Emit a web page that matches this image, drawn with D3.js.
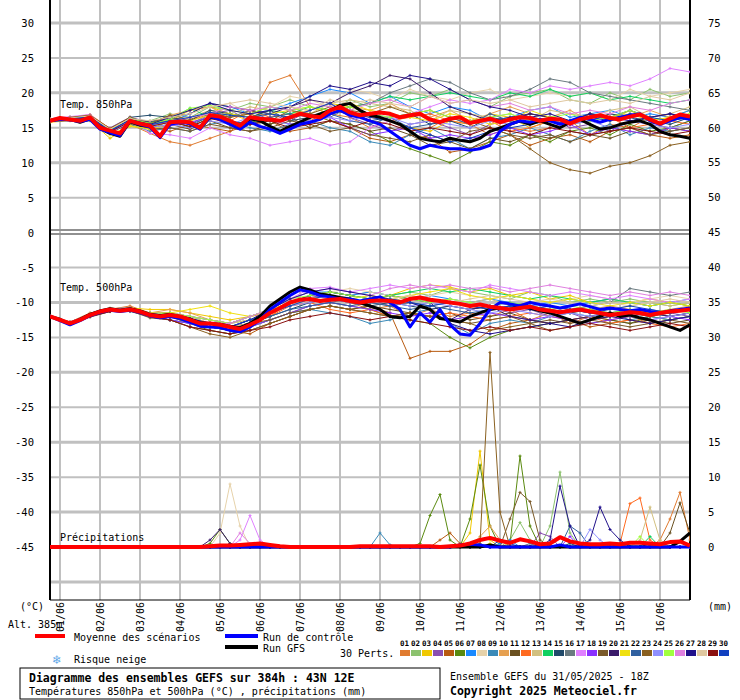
<!DOCTYPE html>
<html><head><meta charset="utf-8">
<script src="https://cdn.jsdelivr.net/npm/d3@7"></script>
<style>body{margin:0;background:#fff}text{font-family:"DejaVu Sans Mono",monospace}</style>
</head><body><svg id="c" width="740" height="700"></svg>
<script>
const dayLabels=["01/06","02/06","03/06","04/06","05/06","06/06","07/06","08/06","09/06","10/06","11/06","12/06","13/06","14/06","15/06","16/06"];
const leftTicks=[30,25,20,15,10,5,0,-5,-10,-15,-20,-25,-30,-35,-40,-45];
const rightTopTicks=[75,70,65,60,55,50,45];
const rightBotTicks=[40,35,30,25,20,15,10,5,0];
const pertColors=["#e07b30","#8cc26e","#f0c800","#8a4fb0","#b85a10","#5a8a10","#1a8aff","#e6d2aa","#3a8ab8","#e6a050","#6a5020","#ff6a20","#d2c080","#10d060","#204a6a","#6a7a80","#e080ff","#8a30ff","#7a5a2a","#3a1a6a","#f0e010","#3060a0","#8a6020","#9090ff","#a0ff40","#e080e0","#20108a","#e0c8a0","#8a1010","#1040c0"];

const mean850=[16,16.4,16.2,16,16.5,15,14.6,14.2,16,15.6,15.3,13.8,15.8,15.9,15.8,15,16.8,16.6,16,15.3,16.5,16.3,16.2,16,16.5,17,16.7,16.5,17.5,18,17.2,16.8,17,17.2,17,16.5,16.8,17,16.2,15.8,16.3,16.5,15.7,16,16.3,15.8,16.2,16.5,16.4,16,16.3,16.2,15.6,16.2,16.5,16.8,16.4,16.2,16.6,16.9,16.2,15.6,16.3,16.9,16.6];
const ctrl850=[16,16.2,16.1,15.9,16.2,14.8,14.3,13.9,16,15.5,15.1,13.6,15.5,15.8,15.6,14.8,16.6,16.2,15.5,14.8,15.8,15.2,14.8,14.2,14.8,15.5,15.8,16.2,17,17.5,16.8,16.5,16,15.5,14.5,13.5,12.5,12,12.5,12.2,12,12,11.8,12,12.5,14.5,15.5,16,15.8,16.2,16,15.5,16,16.5,16.2,15.8,16.2,16.5,16.8,17,16,15.5,16,16.5,16.2];
const gfs850=[16,16.3,16.2,15.8,16.3,14.9,14.2,13.8,15.9,15.4,15.2,13.7,15.7,15.9,15.7,14.9,16.5,16.4,15.8,15.2,16.3,16,15.2,14.5,15.2,15.8,16.5,17,17.5,18.2,18.5,17.5,16.8,16.5,16,15.5,14.5,13.5,13.2,13,13.5,13.2,13,13.5,14.5,15,15.5,16,15.5,16,15.5,15,15.8,16.2,15.5,14.8,15,15.5,15.8,16,15.5,14.5,14,13.8,13.5];
const mean500=[-12,-12.5,-13,-12.5,-11.8,-11.3,-11,-11.2,-11,-11.3,-11.8,-12,-11.8,-12,-12.5,-13,-13,-13.2,-13.5,-13.8,-13.2,-12.5,-11.5,-10.8,-10,-9.6,-9.5,-9.8,-9.6,-9.5,-9.8,-10,-9.8,-9.7,-9.8,-10,-9.5,-9.3,-9.6,-9.8,-10,-10.2,-10.5,-10.3,-10.6,-10.8,-11,-10.8,-10.6,-11,-11.2,-11.4,-11.2,-11,-11.3,-11.5,-11.8,-11.6,-11.4,-11.5,-11.8,-11.5,-11.3,-11.2,-11];
const ctrl500=[-12,-12.6,-13.2,-12.6,-11.9,-11.4,-11.1,-11.3,-11.1,-11.4,-11.9,-12.2,-12,-12.3,-12.8,-13.4,-13.5,-13.6,-14,-14.2,-13.5,-12.5,-11,-10,-9,-8.2,-8.5,-9,-9.2,-9.5,-9.5,-9.8,-9.5,-9.2,-10,-11,-13.5,-11.5,-12.8,-11,-13.2,-14.5,-14.7,-13,-11,-10,-10.2,-10.5,-10,-10.3,-10.5,-10.8,-10.5,-10.2,-10.6,-11,-10.8,-11,-11.2,-11,-11.3,-11.5,-11.2,-11,-10.8];
const gfs500=[-12,-12.4,-13.1,-12.4,-11.7,-11.2,-10.9,-11.1,-10.9,-11.2,-11.7,-11.9,-11.7,-12,-12.4,-12.9,-13,-13.1,-13.4,-13.6,-13,-12,-10.5,-9.5,-8.5,-7.8,-8.2,-8.8,-9,-9.3,-9.5,-10,-10.5,-11,-12,-12.2,-12,-10.5,-11,-12.3,-12.5,-12.8,-12,-11.5,-11,-10.8,-11,-10.5,-10.8,-11.2,-11.5,-12,-12.5,-13,-12.5,-12,-11.5,-12,-11.8,-12.2,-12.5,-13,-13.5,-14,-13.2];
const meanPrecip=[0,0,0,0,0,0,0,0,0,0,0,0,0,0,0,0,0.1,0.2,0.2,0.3,0.4,0.5,0.3,0.1,0,0,0,0,0,0,0,0.1,0.1,0.1,0.1,0.1,0.1,0.1,0.1,0,0.1,0.2,0.5,1,1.3,0.9,0.6,1.1,0.8,0.4,0.5,1.4,0.8,0.5,0.4,0.4,0.5,0.4,0.6,0.6,0.5,0.4,0.7,0.8,0.2];
const ctrlPrecipEvents=[[41,0.3],[42,0.4],[43,0.3],[51,0.3]];
const gfsPrecipEvents=[[44,0.3],[63,0.8],[64,2]];

// perturbations, 12-hourly values
const pert850=[
[16.3,16.5,16.8,14.8,15.5,14.2,13,12.5,13.5,14.5,16.5,21.5,22.5,18,17,16.5,15,16,14.5,15,16.5,15.5,14,15,14.5,15,16,14,15.5,15,16.5,14.5,15],
[16,16.3,16.2,14.2,16.2,16,17,16.5,18,17.5,18.5,18,19,18,17.5,19,18,18.5,20,19.5,20.5,19,18,19.5,20,20.5,19,18.5,20,19,20.5,19.5,20],
[15.8,16,16,13.5,15.2,14.8,16,17.5,18,17,16,16.5,17,17.5,18.5,18,17,16,15,14.5,16,15.5,17,16.5,15,16,15.5,17,16,17.5,16,16.5,17.5],
[16.2,16.5,16.4,15,16.5,15.8,16.5,15,17,17.5,16,17,16,17.5,18.5,16.5,15.5,14.5,15.5,16,15,14,15.5,16,17,16.5,15,15.5,14.5,16,15.5,15,16],
[16,16.2,16.6,14.5,15.8,15,14.5,15.5,15,14.5,15.5,16,14.5,15,16,15,13.5,13,14,13.5,11.5,12,13,14,12.5,13.5,14,13,14.5,15,14,13.5,14],
[16.1,16.4,16.5,14.8,16,15.5,16.2,15,16.5,15.5,16,15.5,16.5,17,16,15.5,14.5,13,12,11,10,11.5,13,12.5,14,13,14.5,15,14,15.5,14.5,15,16],
[16,16.1,16.7,14.7,16.3,15.2,15.8,17,18.5,18,17,17.5,18.5,19.5,20.5,20,18.5,19.5,18,17,18,17.5,16,16.5,17.5,18,16.5,17,17.5,16.5,17,16.5,17.5],
[16.2,16.5,16.4,14.6,16.1,15.8,16.5,17.5,18,18.5,17,18,19.5,19,18,20.5,20,19,20.5,19.5,19,20,20.5,19,19.5,20,19.5,20,19,20.5,19.5,20,20.5],
[15.9,16.2,16.3,14.4,15.5,14.5,15,14.5,15.5,16,15,14.5,15.5,16,15,14.5,13,12.5,14,15,13.5,12,13.5,14,15,14,13,14.5,15.5,14,15,14.5,15],
[16,16.3,16.6,14.5,16.4,15.6,16.8,17.5,18,16.5,17,18,17.5,16.5,17,18,17.5,18.5,17,16.5,17.5,16,17,18,17,16.5,17.5,16,17,16.5,17.5,16.5,17],
[16.1,16.2,16.1,14.2,15.9,15,15.5,14.8,16,15,14.5,15.5,16.5,15,16,15.5,14.5,15,14,12.5,13,12,13.5,13,14,13.5,14.5,14,13.5,14.5,14,15,14.5],
[16.3,16.4,16.9,14.9,16.2,15.5,16.5,16,17,16,17.5,16.5,15.5,16,17.5,17,16.5,16,16.5,17,16,15.5,16,14.5,15,16,15.5,17,16.5,15,15.5,16,15.5],
[16,16.1,16.4,14.5,16,15.3,16,16.5,17.5,17,18,17.5,18,17,18.5,19,18.5,18,17.5,16,17.5,17,16.5,17,16,17.5,17,16.5,17.5,18,16.5,17,18],
[16.1,16.3,16.5,14.6,16.3,15.8,16.2,17.8,16.5,17,16.5,17.5,17,18,17.5,18,18.5,19.5,19,19.5,20,19.5,19,20,19.5,20.5,19.5,20,19,19.5,19,18.5,19],
[16.2,16.3,16.6,14.5,16.5,16.8,16.5,16,17.5,17,16.5,17.5,16,16.5,17,17.5,16,16.5,17,15.5,16,15,16.5,16,17,16.5,15.5,16,17,16.5,16,15.5,16.5],
[16,16.2,16.4,14.6,16.1,15.4,16,15.5,17,16.5,17.5,17,16.5,17,16.5,18,18.5,20,21,22,21.5,20,19,19.5,20.5,22,21.5,20,19.5,19,18.5,18,17.5],
[16.3,16.6,16.9,14.7,16.4,14.2,14,13.5,15,14,13.5,12.5,13,13.5,12.5,13,15,16,17,18,19,18.5,19,20.5,20,21,20.5,21,21.5,21,22,23.5,23],
[16,16.2,16.3,14.4,15.7,15,15.3,15.8,16.5,15.5,16,16.5,15.5,16,16.5,15,14,14.5,15,13.5,14,13.5,14,15,14,14.5,15.5,14,15,14.5,14,15,14.5],
[15.9,16.1,16.2,14.3,15.6,14.8,15,14.5,15.5,15,14.5,15,16,15.5,14.5,15,14,13.5,13,14,13,14.5,15,14,13.5,14,13,14,14.5,15,14,14.5,15],
[16.1,16.4,16.6,14.6,16.2,15.9,16.5,17,18.5,18,17.5,17,18,19,18.5,20,21,22.5,22,20,18,17,16,16.5,17,16.5,16,17,16.5,17.5,16.5,17,16.5],
[16,16.2,16.5,14,15.3,14.8,15.5,16,16.8,17,16.5,17,17.5,18,17,18.5,17.5,17,16.5,16,17,16.5,15.5,16,17.5,16.5,16,17,16.5,17,16,16.5,17],
[16.2,16.3,16.7,14.5,16,15.5,16,15.5,16.5,16,15.5,16.5,17,16.5,17,16,15.5,16.5,15,15.5,16.5,15.5,17,16,15.5,16.5,16,17,16,16.5,15.5,16,16.5],
[16.3,16.5,16.8,14.9,16.5,15.6,16.8,16.2,17.2,16.5,17,16,17.5,17,18,17.5,17,18,17,17.5,16.5,16,15,14,12,10,9,8.5,9.5,10,11,12.5,13],
[16,16.1,16.2,14.3,15.8,15,15.5,15,16,15.5,16.5,16,15.5,16,16.5,16,17,16.5,15.5,16,15.5,15,16,15.5,16.5,16,15.5,16,15,16,15.5,15,15.5],
[16.2,16.4,16.6,14.7,16.3,15.6,16.2,17.8,18.2,17.5,17,18,17.5,18,17.5,18,17,16.5,17,17.5,16.5,16,16.5,17,16,16.5,17,16,16.5,17.5,16.5,16,17],
[16.1,16.3,16.5,14.6,16,15.4,15.8,16.5,17,18,17.5,18,17.5,18.5,18,17.5,18.5,19,18,19.5,18.5,19,18,18.5,17.5,18,17,17.5,17,18,17.5,18.5,19],
[16,16.2,16.6,14.5,16.2,15.5,16.5,17.5,18.5,17.5,17,17.5,18,19.5,21,20.5,21.5,21,22.5,22,20.5,19,18,17.5,16.5,17,16,17,16.5,16,16.5,17,16.5],
[16.2,16.4,16.7,14.8,16.3,16,16.5,17,18,18.5,19,18.5,18,17.5,19,18.5,19,18.5,18,19.5,18.5,19,18.5,19,18,18.5,19,18.5,19,18.5,19.5,19,20],
[16,16.2,16.4,14.4,15.9,15.2,15.8,15.2,16.3,15.8,15.5,16,15,15.5,16,15,16,15.5,14.5,15,14.5,14,15,14.5,14,15,14.5,14,14.5,15,14.5,14,14.5],
[16.1,16.3,16.5,14.6,16.1,15.4,16,16.5,17.2,16.8,16.5,17,16.5,17.5,18.5,17,16.5,16,15,14,13,13.5,14.5,15,15.5,16,15.5,16.5,16,17,16.5,16,16.5]];
const pert500=[
[-12,-12.8,-11.5,-11,-10.5,-11.5,-12,-12,-13,-13.5,-13,-12,-10,-9.5,-9,-10,-11,-10.5,-12,-11,-12,-11.5,-12,-11,-12.5,-11.5,-13,-12,-12.5,-12,-13,-12.5,-12],
[-12,-13,-11.6,-10.8,-11,-12,-11.5,-12.5,-13,-13,-12.5,-11.5,-10.5,-9.5,-8.5,-9,-8.5,-9,-8.5,-9,-8,-8.5,-9,-9.5,-8.5,-9,-10,-9.5,-10,-9.5,-10,-10.5,-10],
[-12,-12.9,-11.8,-11.2,-10.8,-11,-11,-11.5,-12,-12.5,-12,-11.5,-10,-9,-8.5,-9,-9.5,-9,-8,-7.5,-7.8,-8.5,-8,-9,-8.5,-9.5,-9,-10,-9.5,-10,-9.5,-10,-10.5],
[-12,-13.1,-12,-11.3,-11.2,-12,-12.5,-13,-13.5,-14,-13,-11.5,-10,-9,-9.5,-10,-9.5,-10.5,-10,-11,-10.5,-11,-10.5,-11.5,-11,-12,-11.5,-12.5,-12,-11.5,-12,-11.5,-12],
[-12,-13,-11.9,-11.1,-11,-12,-12,-13,-13.5,-14,-14.5,-13,-12,-11,-10.5,-11,-10.5,-11.5,-18,-17,-17,-16,-14,-13,-12.5,-13,-12.5,-13.5,-13,-12.5,-13,-12.5,-12],
[-12,-12.8,-11.7,-11,-11.2,-11.5,-12,-13,-14,-14.5,-13.5,-12.5,-11.5,-10.5,-10,-10.5,-11,-12,-12.5,-13,-15,-16.5,-15,-14,-13.5,-13,-12.5,-13,-12.5,-13,-12,-12.5,-12],
[-12,-13,-11.8,-10.9,-10.8,-11.5,-11.5,-12,-12.5,-13,-12,-11,-9.5,-8.5,-8.5,-9,-8.5,-9,-9.5,-9,-9.5,-10,-9.5,-10,-10.5,-10,-10.5,-10,-9.5,-10,-10.5,-10,-9.5],
[-12,-12.9,-11.9,-11.1,-11,-11.8,-11.5,-12,-12.5,-13,-12.5,-11.5,-10,-9,-8.5,-8,-8.5,-9,-9.5,-9,-8.5,-9,-9.5,-9,-9.5,-10,-9.5,-9,-9.5,-10,-9.5,-9,-9.5],
[-12,-13,-12,-11.2,-11.3,-12,-12.5,-13,-13.5,-14,-13.5,-12.5,-11.5,-11,-11.5,-12,-13,-12.5,-11.5,-11,-13,-14.5,-13,-12.5,-13,-12,-11.5,-12,-11.5,-12.5,-12,-12.5,-12],
[-12,-12.8,-11.6,-10.9,-10.7,-11.5,-11,-11.5,-12.5,-13,-12,-11.5,-10.5,-10,-9.5,-10,-9.5,-10,-9,-9.5,-10,-10.5,-11,-10.5,-11,-10.5,-11.5,-11,-10.5,-11,-11.5,-11,-10.5],
[-12,-13.1,-12.1,-11.3,-11.2,-12.2,-12.5,-13.5,-14,-14.5,-14,-13,-12,-11,-10.5,-11,-10.5,-11,-11.5,-12,-11.5,-12.5,-12,-11.5,-12.5,-13,-12.5,-12,-12.5,-13,-12.5,-13,-12.5],
[-12,-12.9,-11.8,-11,-11,-11.8,-12,-12.5,-13,-13.5,-13,-12,-10.5,-10,-11,-11.5,-11,-12,-11.5,-12,-11.5,-12,-12.5,-12,-11.5,-12,-12.5,-12,-13,-12.5,-13,-13.5,-13],
[-12,-13,-11.7,-11,-10.9,-11.6,-11.5,-12,-13,-13,-12.5,-11.5,-10.5,-9.5,-9,-9.5,-9,-9.5,-9,-10,-9.5,-10,-9.5,-10.5,-10,-10.5,-11,-10.5,-11,-10.5,-10,-10.5,-10],
[-12,-12.9,-11.8,-11.1,-11,-11.8,-11.8,-12.5,-13,-13.5,-12.5,-11.5,-10,-9,-8.5,-9,-9.5,-9,-8.5,-8,-8.5,-8,-8.5,-9,-9.5,-9,-9.5,-10,-9.5,-10,-10.5,-10,-10.5],
[-12,-13,-11.9,-11.2,-11.1,-11.9,-12,-12.5,-13.5,-14,-13,-12,-11,-10,-9.5,-10,-10.5,-10,-10.5,-11,-10.5,-11,-10.5,-11,-10.5,-11,-11.5,-11,-11.5,-11,-11.5,-12,-11.5],
[-12,-12.8,-11.7,-10.9,-10.8,-11.6,-11.5,-12,-12.5,-13,-12,-11,-10.5,-9.5,-10,-9.5,-10,-10.5,-10,-10.5,-10,-10.5,-11,-10.5,-10,-10.5,-11,-10.5,-10,-8,-8.5,-9,-8.5],
[-12,-13,-11.8,-11,-11,-11.8,-11.5,-12,-12.5,-13,-12,-11,-9.5,-8,-7.8,-8.5,-8,-7.5,-8,-7.5,-8,-8.5,-7.5,-8,-8.5,-9,-8.5,-9,-9.5,-9,-9.5,-10,-9.5],
[-12,-13.1,-12,-11.2,-11.2,-12,-12.5,-13,-13.5,-14,-13.5,-12.5,-11.5,-10.5,-10,-10.5,-11,-11.5,-12,-11.5,-12.5,-12,-11.5,-12,-12.5,-12,-12.5,-13,-12.5,-12,-12.5,-12,-12.5],
[-12,-12.9,-11.8,-11,-11,-11.7,-12,-12.5,-13,-13.5,-13,-12.5,-11.5,-11,-10.5,-11,-11.5,-12,-11.5,-12,-12.5,-13,-12.5,-12,-13,-12.5,-13,-12.5,-13,-13.5,-13,-12.5,-13],
[-12,-13,-11.9,-11.1,-11,-11.8,-11.8,-12.5,-13,-13.5,-12.5,-11.5,-10,-9,-8.5,-9,-9.5,-9,-9.5,-10,-12.5,-11,-10.5,-12,-12.5,-13,-12.5,-12,-11.5,-12,-11.5,-12,-11.5],
[-12,-12.9,-11.7,-11,-10.9,-11.5,-11.5,-11,-10.5,-11.5,-12,-11,-10,-9.5,-9,-9.5,-9,-9.5,-9,-8.5,-8,-9,-9.5,-9,-9.5,-10,-9.5,-10,-10.5,-10,-10.5,-10,-10.5],
[-12,-13,-11.8,-11.1,-11,-11.8,-12,-12.5,-13.5,-14,-13,-12,-11,-10.5,-10,-10.5,-10,-10.5,-11,-10.5,-11,-11.5,-11,-10.5,-11,-11.5,-11,-11.5,-12,-11.5,-11,-11.5,-11],
[-12,-13,-12,-11.2,-11.1,-12,-12.5,-13.5,-14.5,-15,-14,-13,-12,-11,-10.5,-11,-11.5,-12,-11.5,-12,-12.5,-13,-14,-13.5,-13,-14,-13.5,-12.5,-12,-11.5,-12,-11.5,-11],
[-12,-12.8,-11.7,-10.9,-10.8,-11.6,-11.8,-12.3,-13,-13.5,-12.5,-11.5,-10.5,-10,-9.5,-10,-9.5,-10,-10.5,-10,-10.5,-11,-11.5,-11,-11.5,-12,-11.5,-12,-11.5,-12,-12.5,-12,-11.5],
[-12,-13,-11.8,-11,-11,-11.8,-11.5,-12,-12.5,-13,-12,-11,-9.5,-9,-8.5,-9,-9.5,-9,-9.5,-10,-9.5,-10,-10.5,-10,-10.5,-11,-10.5,-11,-11.5,-11,-11.5,-11,-11.5],
[-12,-12.9,-11.9,-11.1,-11,-11.9,-12,-12.5,-13,-13,-12,-11,-9.5,-8.5,-8,-8.5,-9,-8,-7.5,-8,-7.5,-8,-7.8,-8.5,-8,-7.5,-8,-8.5,-9,-8.5,-9,-8.5,-9],
[-12,-13,-11.8,-11,-11,-11.7,-11.8,-12.3,-13,-13.5,-12.5,-11,-9.5,-8.5,-8,-8.5,-9,-9.5,-10,-11,-13,-14,-14.5,-14,-13.5,-13,-13.5,-12.5,-12,-12.5,-13,-12.5,-12],
[-12,-12.9,-11.8,-11.1,-11,-11.8,-12,-12.5,-13,-13.5,-13,-11.5,-10.5,-9.5,-9,-9.5,-10,-9.5,-9,-9.5,-10,-9.5,-9,-9.5,-10,-9.5,-10,-10.5,-10,-10.5,-10,-9.5,-10],
[-12,-13,-12,-11.3,-11.2,-12,-12.5,-13.5,-14,-14.5,-14,-13.5,-12.5,-12,-11.5,-12,-12.5,-12,-12.5,-13,-13.5,-14,-13.5,-14,-13.5,-14,-13.5,-13,-13.5,-14,-13.5,-13,-13.5],
[-12,-12.9,-11.8,-11,-11,-11.8,-11.8,-12.3,-13,-13.5,-12.5,-11.5,-10.5,-9.5,-9,-9.5,-10,-9.5,-10,-10.5,-10,-10.5,-11,-10.5,-11,-10.5,-11,-11.5,-11,-10.5,-11,-11.5,-11]];
// precipitation events per perturbation: [6-hourly step, mm]
const pertPrecipEvents=[
[[61,1],[62,4],[63,7.8],[64,1]],
[[46,1],[47,3.5],[48,1],[50,3],[51,10.7],[52,2]],
[[42,2],[43,13.7],[44,1]],
[[49,2],[50,1.5]],
[[39,1],[40,2],[41,0.5]],
[[16,0.5],[17,2.5],[18,0.5],[37,0.5],[38,4.5],[39,7.5],[40,1],[42,4],[43,11.7],[44,3],[46,0.5],[47,13],[48,3]],
[[45,0.5],[46,1]],
[[17,2],[18,9],[19,3]],
[[33,2],[34,0.3]],
[[43,1.5],[44,3],[45,1]],
[[62,2],[63,6.3],[64,2]],
[[57,0.5],[58,6.2],[59,7],[60,1]],
[[59,1],[60,5.7],[61,1]],
[[60,1.5]],
[[52,0.5]],
[[48,0.5]],
[[19,1],[20,4.5],[21,1]],
[[52,1.5]],
[[46,4],[47,7.8],[48,6.5],[49,1]],
[[16,1],[17,2.5],[18,0.5]],
[[44,0.5]],
[[52,3],[53,2]],
[[43,0.5],[44,27.8],[45,5]],
[[54,2.5],[55,1]],
[[59,1.5]],
[[19,2],[20,0.5]],
[[50,1],[51,8.7],[52,3],[54,1],[55,5.7],[56,2.5],[57,1]],
[[58,0.5]],
[[60,0.5]],
[[45,1],[46,0.5]]];

const nSteps=65;
const svg=d3.select("#c");
const x=d3.scaleLinear().domain([0,64]).range([50,690]);
const yT=d3.scaleLinear().domain([30,-45]).range([23,547]);
const yP=d3.scaleLinear().domain([0,45]).range([547,232]);
const yF=d3.scaleLinear().domain([45,75]).range([232,23]);
const G="#c0c0c0";
for(let v=30;v>=-50;v-=5){ if(v===0) continue;
  svg.append("line").attr("x1",50).attr("x2",690).attr("y1",yT(v)).attr("y2",yT(v)).attr("stroke",G).attr("stroke-width",v%10===0?3:2);}
dayLabels.forEach((d,i)=>{const xx=x(1+4*i);
  svg.append("line").attr("x1",xx).attr("x2",xx).attr("y1",0).attr("y2",600).attr("stroke",G).attr("stroke-width",2);
  svg.append("text").attr("transform",`translate(${xx+4},602) rotate(-90)`).attr("text-anchor","end").attr("font-size",10).text(d);});
svg.append("line").attr("x1",50).attr("x2",690).attr("y1",230).attr("y2",230).attr("stroke","#909090").attr("stroke-width",2);
svg.append("line").attr("x1",50).attr("x2",690).attr("y1",234).attr("y2",234).attr("stroke","#909090").attr("stroke-width",2);
svg.append("line").attr("x1",50).attr("x2",690).attr("y1",600).attr("y2",600).attr("stroke","#000");
svg.append("line").attr("x1",50).attr("x2",50).attr("y1",0).attr("y2",600).attr("stroke","#000").attr("stroke-width",2);
svg.append("line").attr("x1",690).attr("x2",690).attr("y1",0).attr("y2",600).attr("stroke","#000").attr("stroke-width",2);
leftTicks.forEach(v=>svg.append("text").attr("x",34).attr("y",yT(v)+4).attr("text-anchor","end").attr("font-size",10.5).text(v));
rightTopTicks.forEach(v=>svg.append("text").attr("x",708).attr("y",yF(v)+4).attr("font-size",10.5).text(v));
rightBotTicks.forEach(v=>svg.append("text").attr("x",708).attr("y",yP(v)+4).attr("font-size",10.5).text(v));

svg.append("clipPath").attr("id","cl").append("rect").attr("x",50).attr("y",0).attr("width",640).attr("height",600);
const plot=svg.append("g").attr("clip-path","url(#cl)");
const lineT=d3.line().x(d=>x(d[0])).y(d=>yT(d[1]));
const lineP=d3.line().x(d=>x(d[0])).y(d=>yP(d[1]));
function expand(ev){const a=new Array(nSteps).fill(0);ev.forEach(e=>a[e[0]]=e[1]);return a;}
function drawMember(vals,step,col,gen){
  const pts=vals.map((v,i)=>[i*step,v]);
  plot.append("path").attr("d",gen(pts)).attr("fill","none").attr("stroke",col).attr("stroke-width",1);
  const yy=gen===lineT?yT:yP;
  plot.selectAll(null).data(pts).enter().append("path")
    .attr("d",d=>`M${x(d[0])-1.5},${yy(d[1])}h3M${x(d[0])},${yy(d[1])-1.5}v3`).attr("stroke",col).attr("stroke-width",1);
}
pertColors.forEach((c,k)=>{drawMember(pert850[k],2,c,lineT);drawMember(pert500[k],2,c,lineT);drawMember(expand(pertPrecipEvents[k]),1,c,lineP);});
function thick(vals,col,w,gen){plot.append("path").attr("d",gen(vals.map((v,i)=>[i,v]))).attr("fill","none").attr("stroke",col).attr("stroke-width",w).attr("stroke-linejoin","round");}
thick(gfs850,"#000",3,lineT);thick(gfs500,"#000",3,lineT);thick(expand(gfsPrecipEvents),"#000",3,lineP);
thick(ctrl850,"#0000ff",3,lineT);thick(ctrl500,"#0000ff",3,lineT);thick(expand(ctrlPrecipEvents),"#0000ff",3,lineP);
thick(mean850,"#ff0000",4,lineT);thick(mean500,"#ff0000",4,lineT);thick(meanPrecip,"#ff0000",4,lineP);

const T=(t,xx,yy,o={})=>svg.append("text").attr("x",xx).attr("y",yy).attr("font-size",o.s||10).attr("font-weight",o.b?"bold":null).attr("fill",o.c||"#000").text(t);
T("Temp. 850hPa",60,108);T("Temp. 500hPa",60,291);T("Précipitations",60,541);
T("(°C)",20,610);T("(mm)",708,610);T("Alt. 385m",8,628);
svg.append("rect").attr("x",35).attr("y",634).attr("width",30).attr("height",4).attr("fill","#f00");
T("Moyenne des scénarios",74,641);
svg.append("rect").attr("x",225).attr("y",634).attr("width",33).attr("height",4).attr("fill","#00f");
T("Run de contrôle",263,641);
svg.append("rect").attr("x",225).attr("y",645).attr("width",33).attr("height",4).attr("fill","#000");
T("Run GFS",263,652);
T("30 Perts.",340,657);
T("❄",53,664,{c:"#60a8e8",s:13});T("Risque neige",74,663);
pertColors.forEach((c,k)=>{svg.append("rect").attr("x",400+k*11).attr("y",650).attr("width",10).attr("height",6).attr("fill",c);
  T(String(k+1).padStart(2,"0"),400+k*11,646,{s:7.5,b:true});});
svg.append("rect").attr("x",20).attr("y",668).attr("width",420).attr("height",31).attr("fill","none").attr("stroke","#000");
T("Diagramme des ensembles GEFS sur 384h : 43N 12E",29,682,{b:true,s:11.5});
T("Températures 850hPa et 500hPa (°C) , précipitations (mm)",29,695,{s:10});
T("Ensemble GEFS du 31/05/2025 - 18Z",450,680,{s:10});
T("Copyright 2025 Meteociel.fr",450,695,{b:true,s:11.5});
</script></body></html>
